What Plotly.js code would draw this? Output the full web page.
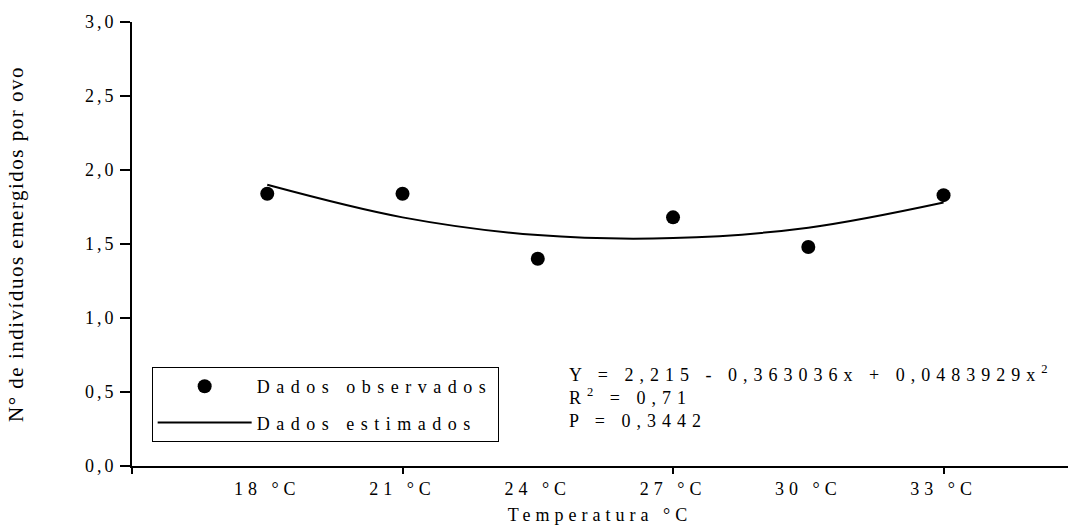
<!DOCTYPE html>
<html>
<head>
<meta charset="utf-8">
<script src="https://cdn.plot.ly/plotly-3.0.1.min.js"></script>
<style>
  html, body { margin: 0; padding: 0; background: #fff; }
  #chart { width: 1068px; height: 529px; }
  .xtick text, .x2tick text { letter-spacing: 5px; }
  .ytick text { letter-spacing: 3px; }
  .legendtext { letter-spacing: 6.5px; }
  .annotation-text { letter-spacing: 6px; }
  .x2title { letter-spacing: 5px; }
  .ytitle { letter-spacing: 1.5px; }
</style>
</head>
<body>
<div id="chart"></div>
<script>
// Temperature treatments (x = 1..6 as in the fitted equation)
const categories = ['18 °C', '21 °C', '24 °C', '27 °C', '30 °C', '33 °C'];
const xIndex = [1, 2, 3, 4, 5, 6];
const observed = [1.84, 1.84, 1.40, 1.68, 1.48, 1.83];
// Estimated curve (at each treatment)
const estimated = [1.90, 1.68, 1.56, 1.54, 1.61, 1.78];
// Y axis ticks
const yTickVals = [0, 0.5, 1, 1.5, 2, 2.5, 3];
const yTickText = ['0,0', '0,5', '1,0', '1,5', '2,0', '2,5', '3,0'];
// X axis tick marks (even positions only)
const xMarkVals = [0, 2, 4, 6];
const equationText = 'Y = 2,215 - 0,363036x + 0,0483929x<sup>2</sup><br>R<sup>2</sup> = 0,71<br>P = 0,3442';

const serif = "'Liberation Serif', 'Times New Roman', serif";
const xRange = [0, 6.92];

const traces = [
  {
    x: xIndex, y: observed, xaxis: 'x2', yaxis: 'y',
    type: 'scatter', mode: 'markers', name: 'Dados observados',
    marker: { color: '#000', size: 14, symbol: 'circle' },
    legendgroup: 'a'
  },
  {
    x: xIndex, y: estimated, xaxis: 'x', yaxis: 'y',
    type: 'scatter', mode: 'lines', name: 'Dados estimados',
    line: { color: '#000', width: 2, shape: 'spline', smoothing: 1 },
    legendgroup: 'b'
  }
];

const layout = {
  width: 1068, height: 529,
  margin: { l: 132, r: 0, t: 22, b: 63 },
  paper_bgcolor: '#fff', plot_bgcolor: '#fff',
  font: { family: serif, size: 18, color: '#000' },
  showlegend: true,
  legend: {
    x: 0.021, y: 0.223, xanchor: 'left', yanchor: 'top',
    bordercolor: '#000', borderwidth: 1, bgcolor: '#fff',
    font: { family: serif, size: 18, color: '#000' },
    traceorder: 'grouped', tracegroupgap: 10, itemwidth: 94
  },
  xaxis: {
    range: xRange, showgrid: false, zeroline: false,
    showline: true, linecolor: '#000', linewidth: 2,
    tickmode: 'array', tickvals: xMarkVals, showticklabels: false,
    ticks: 'outside', ticklen: 6, tickwidth: 2, tickcolor: '#000'
  },
  xaxis2: {
    overlaying: 'x', anchor: 'y', side: 'bottom',
    range: xRange, showgrid: false, zeroline: false, showline: false,
    tickmode: 'array', tickvals: xIndex, ticktext: categories, ticks: '',
    ticklabelstandoff: 10,
    tickfont: { family: serif, size: 18, color: '#000' },
    title: { text: 'Temperatura °C', font: { family: serif, size: 18, color: '#000' }, standoff: 10 }
  },
  yaxis: {
    range: [0, 3], showgrid: false, zeroline: false,
    showline: true, linecolor: '#000', linewidth: 2,
    tickmode: 'array', tickvals: yTickVals, ticktext: yTickText,
    ticks: 'outside', ticklen: 10, tickwidth: 2, tickcolor: '#000',
    tickfont: { family: serif, size: 18, color: '#000' },
    title: { text: 'N° de indivíduos emergidos por ovo', font: { family: serif, size: 21, color: '#000' }, standoff: 56 }
  },
  annotations: [
    {
      xref: 'paper', yref: 'paper', x: 0.465, y: 0.238, xanchor: 'left', yanchor: 'top',
      text: equationText, showarrow: false, align: 'left',
      font: { family: serif, size: 18, color: '#000' }
    }
  ]
};

Plotly.newPlot('chart', traces, layout, { displayModeBar: false, staticPlot: true });
</script>
</body>
</html>
